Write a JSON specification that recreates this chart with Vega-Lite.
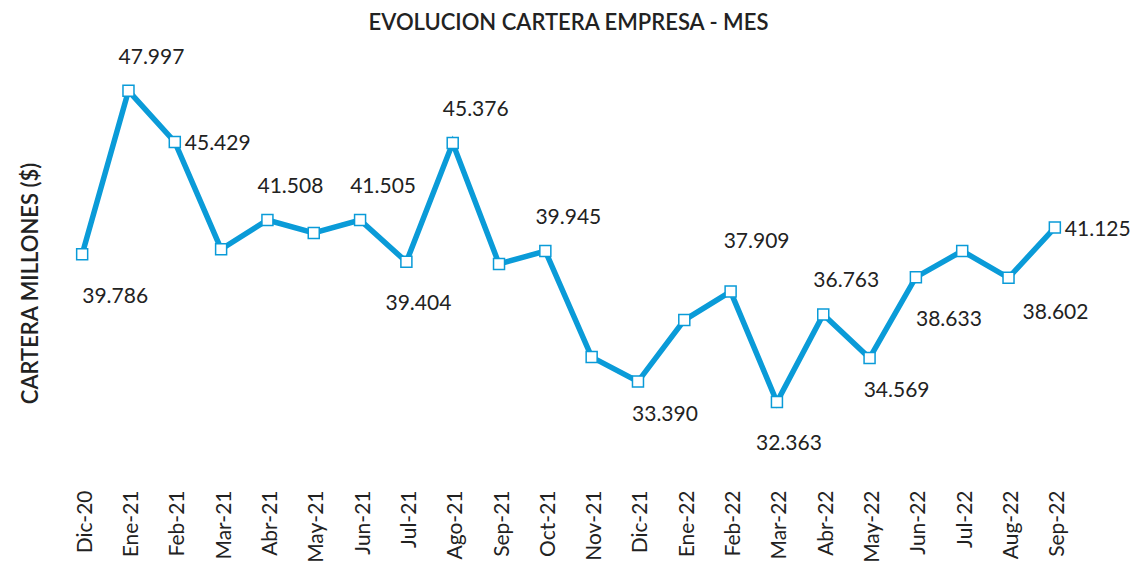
{
  "$schema": "https://vega.github.io/schema/vega-lite/v6.json",
  "autosize": {"type": "none"},
  "padding": {"left": 59, "top": 51, "right": 52, "bottom": 129},
  "width": 1019,
  "height": 398,
  "background": "white",
  "config": {"view": {"stroke": null}, "font": "Lato"},
  "title": {"text": "EVOLUCION CARTERA EMPRESA - MES", "fontSize": 22, "fontWeight": 600, "color": "#222222", "offset": 12, "font": "Lato"},
  "data": {"values": [
    {"mes": "Dic-20", "v": 39.786, "lbl": "39.786", "pos": "belowDeep"},
    {"mes": "Ene-21", "v": 47.997, "lbl": "47.997", "pos": "above"},
    {"mes": "Feb-21", "v": 45.429, "lbl": "45.429", "pos": "right"},
    {"mes": "Mar-21", "v": 40.04, "lbl": "", "pos": "none"},
    {"mes": "Abr-21", "v": 41.508, "lbl": "41.508", "pos": "above"},
    {"mes": "May-21", "v": 40.86, "lbl": "", "pos": "none"},
    {"mes": "Jun-21", "v": 41.505, "lbl": "41.505", "pos": "above"},
    {"mes": "Jul-21", "v": 39.404, "lbl": "39.404", "pos": "below"},
    {"mes": "Ago-21", "v": 45.376, "lbl": "45.376", "pos": "above"},
    {"mes": "Sep-21", "v": 39.3, "lbl": "", "pos": "none"},
    {"mes": "Oct-21", "v": 39.945, "lbl": "39.945", "pos": "above"},
    {"mes": "Nov-21", "v": 34.62, "lbl": "", "pos": "none"},
    {"mes": "Dic-21", "v": 33.39, "lbl": "33.390", "pos": "belowRight"},
    {"mes": "Ene-22", "v": 36.48, "lbl": "", "pos": "none"},
    {"mes": "Feb-22", "v": 37.909, "lbl": "37.909", "pos": "aboveFar"},
    {"mes": "Mar-22", "v": 32.363, "lbl": "32.363", "pos": "below"},
    {"mes": "Abr-22", "v": 36.763, "lbl": "36.763", "pos": "above"},
    {"mes": "May-22", "v": 34.569, "lbl": "34.569", "pos": "belowRight"},
    {"mes": "Jun-22", "v": 38.633, "lbl": "38.633", "pos": "belowDeep"},
    {"mes": "Jul-22", "v": 39.95, "lbl": "", "pos": "none"},
    {"mes": "Aug-22", "v": 38.602, "lbl": "38.602", "pos": "belowFarRight"},
    {"mes": "Sep-22", "v": 41.125, "lbl": "41.125", "pos": "right"}
  ]},
  "encoding": {
    "x": {"field": "mes", "type": "ordinal", "sort": null,
      "scale": {"type": "point", "padding": 0.5},
      "axis": {"title": null, "labelAngle": -90, "labelAlign": "right", "labelBaseline": "middle", "labelPadding": 41, "ticks": false, "tickSize": 0, "domain": false, "grid": false, "labelFontSize": 21, "labelColor": "#222222", "labelFont": "Lato", "labelOffset": 3}},
    "y": {"field": "v", "type": "quantitative",
      "scale": {"domain": [30, 50], "zero": false, "nice": false},
      "axis": {"title": "CARTERA MILLONES ($)", "labels": false, "ticks": false, "domain": false, "grid": false, "titleFontSize": 22, "titleFontWeight": 600, "titleColor": "#222222", "titleX": -29, "titleY": 232, "titleAngle": -90, "titleAlign": "center", "titleBaseline": "middle", "titleFont": "Lato"}}
  },
  "layer": [
    {"mark": {"type": "line", "color": "#0A9BD8", "strokeWidth": 5.5, "strokeJoin": "miter"}},
    {"mark": {"type": "point", "shape": "square", "size": 121, "filled": true, "fill": "white", "stroke": "#0A9BD8", "strokeWidth": 1.5, "opacity": 1}},
    {"transform": [{"filter": "datum.pos == 'above'"}],
     "mark": {"type": "text", "dx": 23, "dy": -33, "fontSize": 21, "color": "#222222", "font": "Lato"},
     "encoding": {"text": {"field": "lbl"}}},
    {"transform": [{"filter": "datum.pos == 'aboveFar'"}],
     "mark": {"type": "text", "dx": 26, "dy": -50, "fontSize": 21, "color": "#222222", "font": "Lato"},
     "encoding": {"text": {"field": "lbl"}}},
    {"transform": [{"filter": "datum.pos == 'below'"}],
     "mark": {"type": "text", "dx": 12, "dy": 42, "fontSize": 21, "color": "#222222", "font": "Lato"},
     "encoding": {"text": {"field": "lbl"}}},
    {"transform": [{"filter": "datum.pos == 'belowDeep'"}],
     "mark": {"type": "text", "dx": 33, "dy": 43, "fontSize": 21, "color": "#222222", "font": "Lato"},
     "encoding": {"text": {"field": "lbl"}}},
    {"transform": [{"filter": "datum.pos == 'belowRight'"}],
     "mark": {"type": "text", "dx": 27, "dy": 33, "fontSize": 21, "color": "#222222", "font": "Lato"},
     "encoding": {"text": {"field": "lbl"}}},
    {"transform": [{"filter": "datum.pos == 'belowFarRight'"}],
     "mark": {"type": "text", "dx": 47, "dy": 35, "fontSize": 21, "color": "#222222", "font": "Lato"},
     "encoding": {"text": {"field": "lbl"}}},
    {"transform": [{"filter": "datum.pos == 'right'"}],
     "mark": {"type": "text", "dx": 10, "dy": 2, "align": "left", "fontSize": 21, "color": "#222222", "font": "Lato"},
     "encoding": {"text": {"field": "lbl"}}}
  ]
}
